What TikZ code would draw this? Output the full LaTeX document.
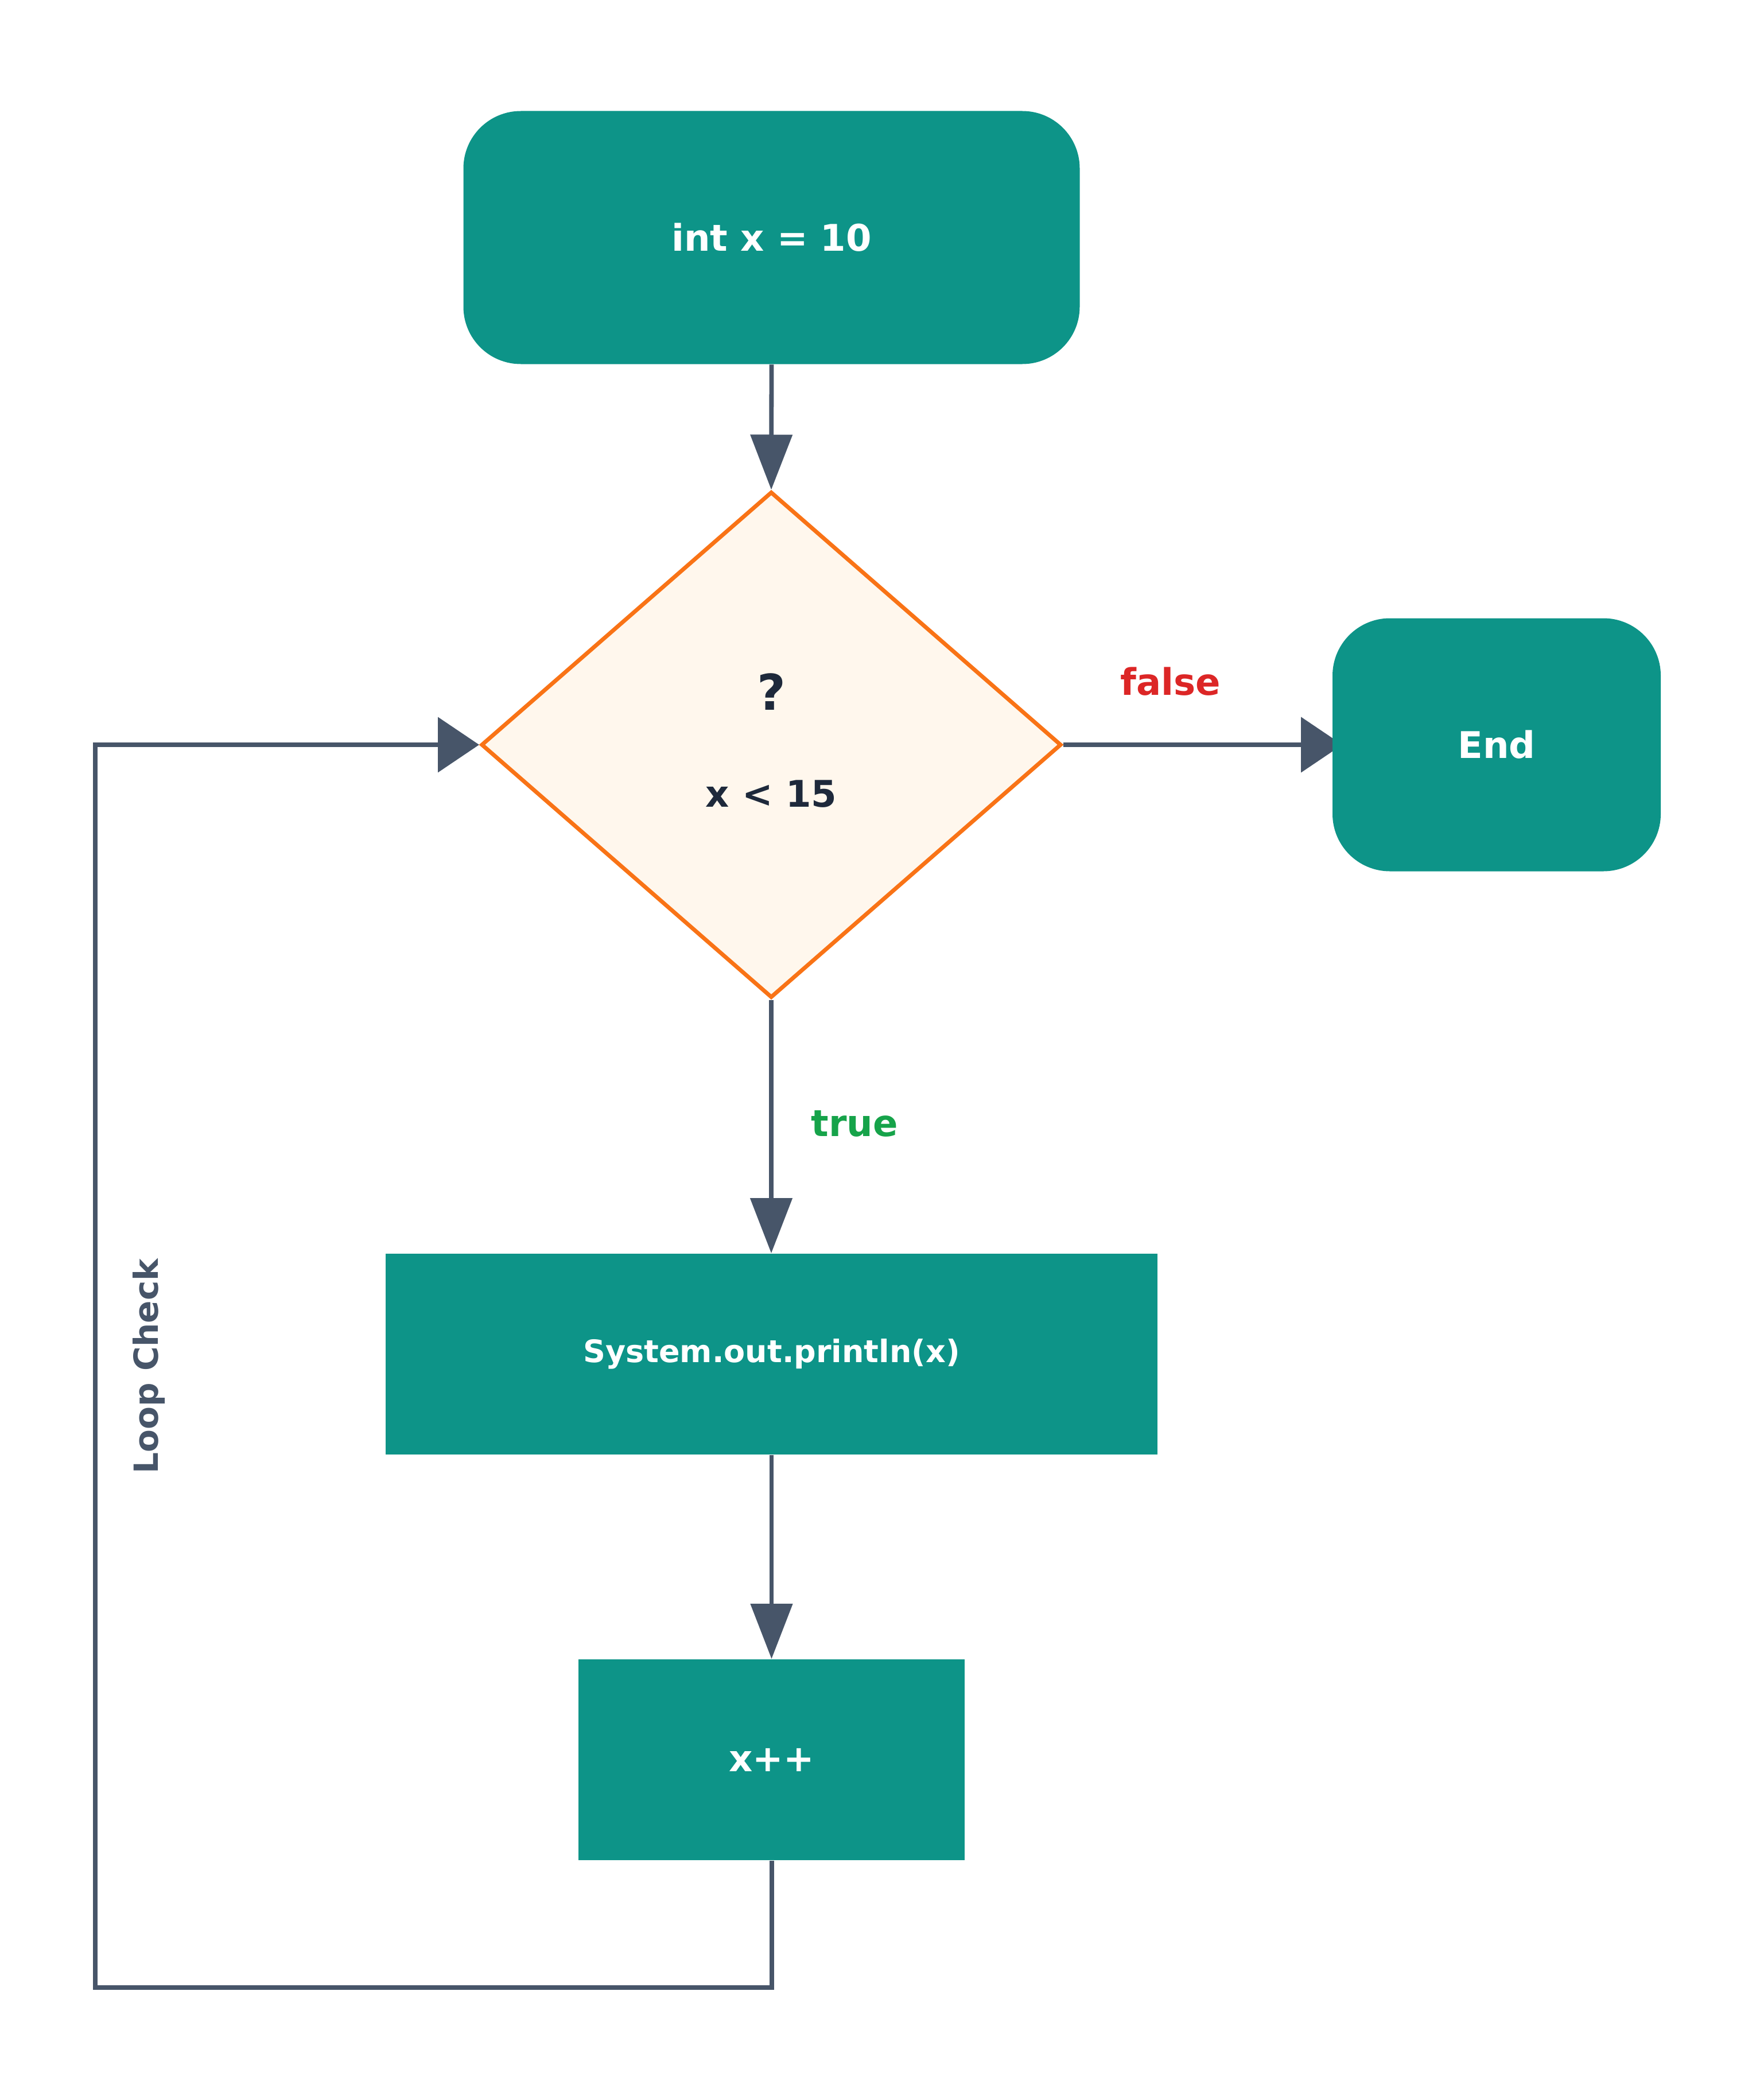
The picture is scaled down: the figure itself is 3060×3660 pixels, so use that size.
\documentclass[tikz,border=0pt]{standalone}
\usepackage{fontspec}
\setmainfont{DejaVu Sans}
\usetikzlibrary{arrows.meta,shapes.geometric}
\definecolor{teal6}{HTML}{0D9488}
\definecolor{orng}{HTML}{F97316}
\definecolor{orngbg}{HTML}{FFF7ED}
\definecolor{slate6}{HTML}{475569}
\definecolor{slate8}{HTML}{1E293B}
\definecolor{redlbl}{HTML}{DC2626}
\definecolor{greenlbl}{HTML}{16A34A}
\pgfdeclarelayer{bg}
\pgfsetlayers{bg,main}
\tikzset{
  x=0.25pt, y=-0.25pt,
  termbox/.style={draw=none, fill=teal6, text=white, rounded corners=25pt, inner sep=0pt,
    minimum height=110.25pt, font=\fontsize{16}{19}\selectfont\bfseries},
  procbox/.style={draw=none, fill=teal6, text=white, inner sep=0pt,
    minimum height=87.5pt, font=\fontsize{16}{19}\selectfont\bfseries},
  decbox/.style={diamond, draw=orng, fill=orngbg, line width=1.75pt, inner sep=0pt,
    minimum width=252.75pt, minimum height=220.5pt},
  conn/.style={draw=slate6, line width=1.95pt, -{Triangle[length=24pt,width=18pt]}},
  hconn/.style={draw=slate6, line width=2pt, -{Triangle[length=18pt,width=23.75pt]}},
  edgelbl/.style={font=\fontsize{16}{19}\selectfont\bfseries, inner sep=0pt}
}
\begin{document}
\begin{tikzpicture}
\useasboundingbox (0,0) rectangle (3060,3660);
\node[termbox, minimum width=268.5pt] (start) at (1344.5,414) {int x = 10};
\node[decbox] (dec) at (1344,1298) {};
\node[font=\fontsize{21.5}{25}\selectfont\bfseries, text=slate8, inner sep=0pt] (qm) at (1344,1206) {?};
\node[font=\fontsize{16}{19}\selectfont\bfseries, text=slate8, inner sep=0pt] (cond) at (1344,1384) {x < 15};
\node[termbox, minimum width=143pt] (end) at (2608,1298) {End};
\node[procbox, minimum width=336.25pt, font=\fontsize{13.5}{16}\selectfont\bfseries] (print) at (1344.5,2360) {System.out.println(x)};
\node[procbox, minimum width=168.25pt] (inc) at (1344.5,3067) {x++};
\coordinate (lb) at (166,3464);

\begin{pgfonlayer}{bg}
\draw[conn] (start.south) -- (dec.north);
\draw[hconn, shorten >=-4.5pt] (dec.east) -- (end.west);
\draw[conn] (dec.south) -- (dec.south |- print.north);
\draw[conn] (print.south) -- (print.south |- inc.north);
\draw[hconn] (inc.south) -- (inc.south |- lb) -- (lb) -- (lb |- dec.west) -- (dec.west);
\end{pgfonlayer}

\node[edgelbl, text=redlbl] (flbl) at (2040,1188) {false};
\node[edgelbl, text=greenlbl] (tlbl) at (1489,1958) {true};
\node[edgelbl, text=slate6, rotate=90, font=\fontsize{14.5}{17}\selectfont\bfseries] (loopl) at (259,2381) {Loop Check};
\end{tikzpicture}
\end{document}
